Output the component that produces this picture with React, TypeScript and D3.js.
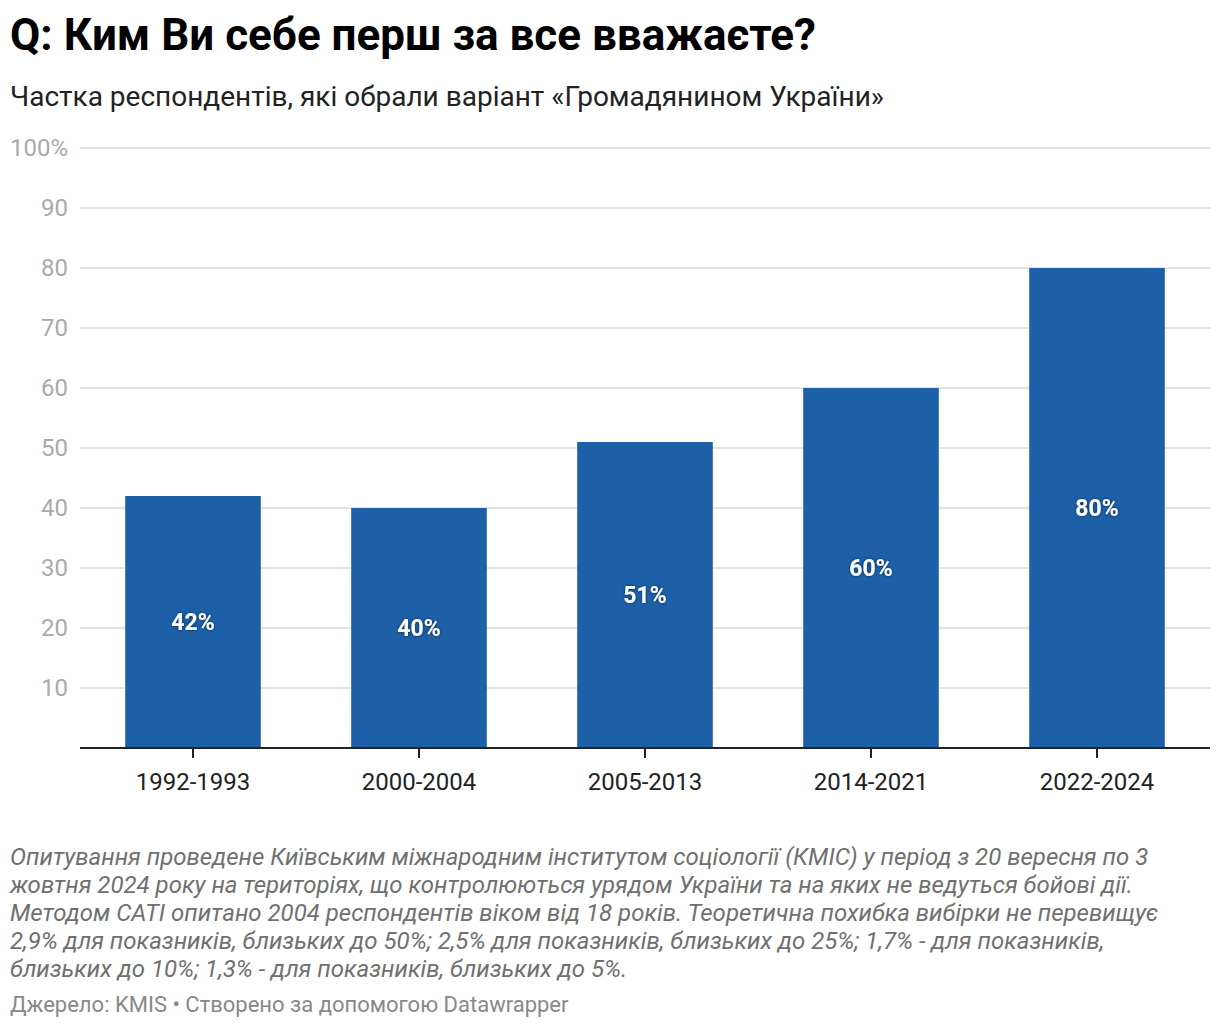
import React from "react";
import * as d3 from "d3";

const categories = ["1992-1993", "2000-2004", "2005-2013", "2014-2021", "2022-2024"];
const values = [42, 40, 51, 60, 80];
const yTicks = [10, 20, 30, 40, 50, 60, 70, 80, 90, 100];

const title = "Q: Ким Ви себе перш за все вважаєте?";
const subtitle = "Частка респондентів, які обрали варіант «Громадянином України»";
const notes = [
  "Опитування проведене Київським міжнародним інститутом соціології (КМІС) у період з 20 вересня по 3",
  "жовтня 2024 року на територіях, що контролюються урядом України та на яких не ведуться бойові дії.",
  "Методом CATI опитано 2004 респондентів віком від 18 років. Теоретична похибка вибірки не перевищує",
  "2,9% для показників, близьких до 50%; 2,5% для показників, близьких до 25%; 1,7% - для показників,",
  "близьких до 10%; 1,3% - для показників, близьких до 5%.",
];
const source = "Джерело: KMIS • Створено за допомогою Datawrapper";

const W = 1220;
const H = 1028;
const left = 80;
const right = 1210;
const top = 148;
const bottom = 748;

export default function App() {
  React.useEffect(() => {
    document.body.style.margin = "0";
  }, []);
  const x = d3.scaleBand<string>().domain(categories).range([left, right]).paddingInner(0.4).paddingOuter(0.2);
  const y = d3.scaleLinear().domain([0, 100]).range([bottom, top]);
  const font = "Roboto, 'Noto Sans', sans-serif";
  return (
    <svg width={W} height={H} style={{ display: "block", fontFamily: font }}>
      <defs>
        <filter id="ts" x="-20%" y="-30%" width="140%" height="160%">
          <feDropShadow dx="0" dy="0" stdDeviation="1.5" floodColor="#000" floodOpacity="0.6" />
        </filter>
      </defs>
      <rect width={W} height={H} fill="#fff" />
      <text x={10} y={50} fontSize={44} fontWeight={700} fill="#000">{title}</text>
      <text x={10} y={106} fontSize={28} fill="#222">{subtitle}</text>
      {yTicks.map((t) => (
        <g key={t}>
          <line x1={left} x2={right} y1={y(t)} y2={y(t)} stroke="#e3e3e3" strokeWidth={2} />
          <text x={68} y={y(t)} dy="0.35em" textAnchor="end" fontSize={24} fill="#aaaaaa">
            {t === 100 ? "100%" : t}
          </text>
        </g>
      ))}
      {categories.map((c, i) => {
        const bx = x(c)!;
        const bw = x.bandwidth();
        const v = values[i];
        return (
          <g key={c}>
            <rect x={bx} y={y(v)} width={bw} height={y(0) - y(v)} fill="#1d60a8" />
            <text
              x={bx + bw / 2}
              y={y(v / 2)}
              dy="0.35em"
              textAnchor="middle"
              fontSize={23}
              fontWeight={700}
              fill="#fff"
              filter="url(#ts)"
            >
              {v}%
            </text>
            <line x1={bx + bw / 2} x2={bx + bw / 2} y1={bottom} y2={bottom + 10} stroke="#222" strokeWidth={2} />
            <text x={bx + bw / 2} y={790} textAnchor="middle" fontSize={24} fill="#222">{c}</text>
          </g>
        );
      })}
      <line x1={left} x2={right} y1={bottom} y2={bottom} stroke="#222" strokeWidth={2} />
      {notes.map((n, i) => (
        <text key={i} x={10} y={865 + i * 28} fontSize={24} fontStyle="italic" fill="#707070">{n}</text>
      ))}
      <text x={10} y={1012} fontSize={22} fill="#888">{source}</text>
    </svg>
  );
}
